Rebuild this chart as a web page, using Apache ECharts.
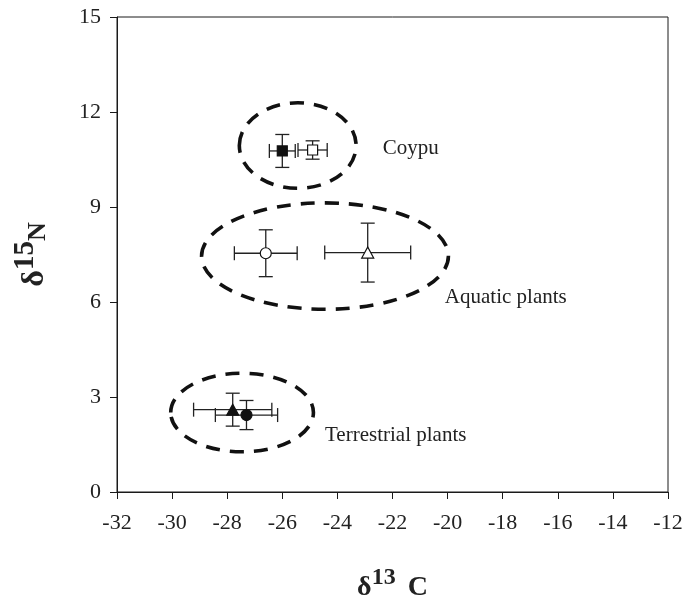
<!DOCTYPE html>
<html>
<head>
<meta charset="utf-8">
<script src="https://cdn.jsdelivr.net/npm/echarts@6/dist/echarts.min.js"></script>
<style>
html,body{margin:0;padding:0;background:#fff;}
#main{width:698px;height:596px;}
</style>
</head>
<body>
<div id="main"></div>
<script>
// ---- data ----
const xTicks = [-32, -12, 2];          // min, max, interval for δ13C
const yTicks = [0, 15, 3];             // min, max, interval for δ15N
const d13C  = [-26.0, -24.9, -26.6, -22.9, -27.8, -27.3];
const d15N  = [10.77, 10.80, 7.54, 7.56, 2.60, 2.43];
const errC  = [0.47, 0.53, 1.14, 1.56, 1.42, 1.13];
const errN  = [0.52, 0.29, 0.74, 0.93, 0.52, 0.46];
const markerShape = ['rect', 'rect', 'circle', 'triangle', 'triangle', 'circle'];
const markerFilled = [true, false, false, false, true, true];
// group ellipses: centre x, centre y, radius x, radius y (data units)
const ellCX = [-25.44, -24.45, -27.46];
const ellCY = [10.94, 7.45, 2.51];
const ellRX = [2.12, 4.48, 2.59];
const ellRY = [1.35, 1.68, 1.24];
const groupNames = ['Coypu', 'Aquatic plants', 'Terrestrial plants'];
const groupLabelX = [-22.35, -20.1, -24.45];
const groupLabelY = [10.86, 6.13, 1.80];

const serif = '"Liberation Serif", "DejaVu Serif", serif';
const ink = '#1a1a1a';

const chart = echarts.init(document.getElementById('main'), null, {renderer: 'canvas'});

const errData = d13C.map((x, i) => [x, d15N[i], errC[i], errN[i]]);
const ellData = ellCX.map((x, i) => [x, ellCY[i], ellRX[i], ellRY[i]]);
const lblData = groupNames.map((n, i) => [groupLabelX[i], groupLabelY[i], n]);

const markerSeries = d13C.map((x, i) => ({
  type: 'scatter',
  data: [[x, d15N[i]]],
  symbol: markerShape[i],
  symbolSize: markerShape[i] === 'triangle' ? [12, 11] : (markerShape[i] === 'rect' ? 10 : 11),
  itemStyle: {
    color: markerFilled[i] ? '#111' : '#fff',
    borderColor: '#111',
    borderWidth: 1.2,
    opacity: 1
  },
  z: 5,
  silent: true
}));

const option = {
  animation: false,
  backgroundColor: '#fff',
  grid: {left: 117, right: 30, top: 17, bottom: 104, show: true, borderColor: ink, borderWidth: 1,
         containLabel: false, outerBoundsMode: 'none'},
  xAxis: {
    type: 'value', min: xTicks[0], max: xTicks[1], interval: xTicks[2],
    axisLine: {show: true, onZero: false, lineStyle: {color: ink, width: 1}},
    axisTick: {show: true, inside: false, length: 7, lineStyle: {color: ink}},
    splitLine: {show: false},
    axisLabel: {fontFamily: serif, fontSize: 22, color: '#222', margin: 20},
    name: '{d|δ}{s|13}{c|C}',
    nameLocation: 'middle', nameGap: 74,
    nameTextStyle: {
      rich: {
        d: {fontFamily: serif, fontWeight: 'bold', fontSize: 28, color: '#222', verticalAlign: 'bottom', lineHeight: 36},
        s: {fontFamily: serif, fontWeight: 'bold', fontSize: 24, color: '#222', verticalAlign: 'top', lineHeight: 36},
        c: {fontFamily: serif, fontWeight: 'bold', fontSize: 28, color: '#222', verticalAlign: 'bottom', lineHeight: 36, padding: [0, 0, 0, 12]}
      }
    }
  },
  yAxis: {
    type: 'value', min: yTicks[0], max: yTicks[1], interval: yTicks[2],
    axisLine: {show: true, onZero: false, lineStyle: {color: ink, width: 1}},
    axisTick: {show: true, inside: false, length: 7, lineStyle: {color: ink}},
    splitLine: {show: false},
    axisLabel: {fontFamily: serif, fontSize: 22, color: '#222', margin: 16},
    name: '{d|δ}{s|15}{n|N}',
    nameLocation: 'middle', nameGap: 66, nameRotate: 90,
    nameTextStyle: {
      rich: {
        d: {fontFamily: serif, fontWeight: 'bold', fontSize: 32, color: '#222', verticalAlign: 'bottom', lineHeight: 40},
        s: {fontFamily: serif, fontWeight: 'bold', fontSize: 29, color: '#222', verticalAlign: 'top', lineHeight: 40},
        n: {fontFamily: serif, fontWeight: 'bold', fontSize: 26, color: '#222', verticalAlign: 'bottom', lineHeight: 40}
      }
    }
  },
  series: [
    {
      type: 'custom',
      data: ellData,
      silent: true,
      z: 2,
      renderItem: function (params, api) {
        const c = api.coord([api.value(0), api.value(1)]);
        const s = api.size([api.value(2), api.value(3)]);
        return {
          type: 'ellipse',
          shape: {cx: c[0], cy: c[1], rx: s[0], ry: s[1]},
          style: {fill: 'none', stroke: '#111', lineWidth: 3.6, lineDash: [14, 10], lineCap: 'butt'}
        };
      }
    },
    {
      type: 'custom',
      data: errData,
      silent: true,
      z: 3,
      renderItem: function (params, api) {
        const x = api.value(0), y = api.value(1), ex = api.value(2), ey = api.value(3);
        const l = api.coord([x - ex, y]);
        const r = api.coord([x + ex, y]);
        const t = api.coord([x, y + ey]);
        const b = api.coord([x, y - ey]);
        const cap = 7;
        const st = {stroke: '#222', lineWidth: 1.3};
        return {
          type: 'group',
          children: [
            {type: 'line', shape: {x1: l[0], y1: l[1], x2: r[0], y2: r[1]}, style: st},
            {type: 'line', shape: {x1: l[0], y1: l[1] - cap, x2: l[0], y2: l[1] + cap}, style: st},
            {type: 'line', shape: {x1: r[0], y1: r[1] - cap, x2: r[0], y2: r[1] + cap}, style: st},
            {type: 'line', shape: {x1: t[0], y1: t[1], x2: b[0], y2: b[1]}, style: st},
            {type: 'line', shape: {x1: t[0] - cap, y1: t[1], x2: t[0] + cap, y2: t[1]}, style: st},
            {type: 'line', shape: {x1: b[0] - cap, y1: b[1], x2: b[0] + cap, y2: b[1]}, style: st}
          ]
        };
      }
    },
    {
      type: 'custom',
      data: lblData,
      silent: true,
      z: 4,
      renderItem: function (params, api) {
        const p = api.coord([api.value(0), api.value(1)]);
        return {
          type: 'text',
          x: p[0], y: p[1],
          style: {
            text: lblData[params.dataIndex][2],
            fontFamily: serif, fontSize: 21, fill: '#222',
            align: 'left', verticalAlign: 'middle'
          }
        };
      }
    }
  ].concat(markerSeries)
};

chart.setOption(option);
</script>
</body>
</html>
